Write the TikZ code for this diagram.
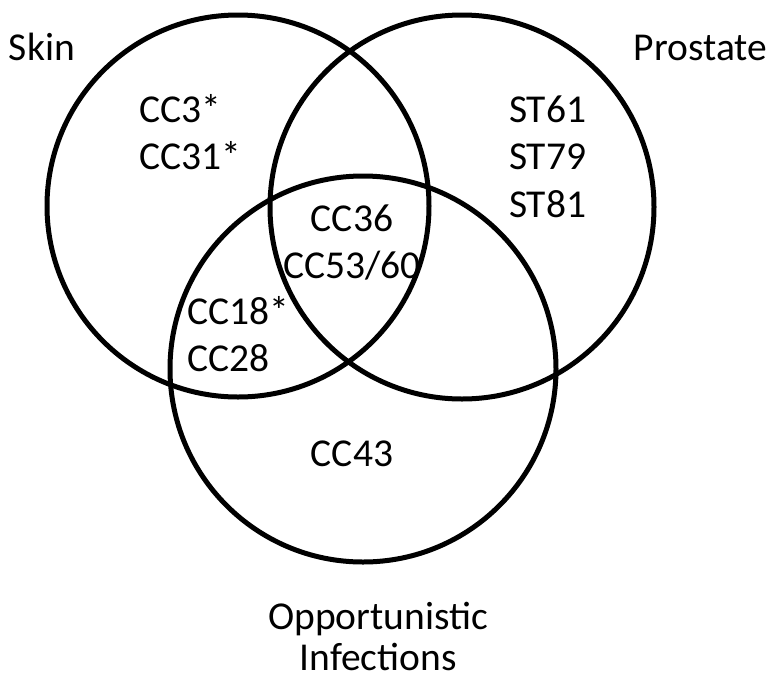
\documentclass[tikz,border=0pt]{standalone}
\usepackage{fontspec}
\setmainfont{Carlito}
\begin{document}
\begin{tikzpicture}[x=1pt,y=-1pt,
  ring/.style={draw=black,line width=5pt},
  lbl/.style={inner sep=0pt,outer sep=0pt,font=\fontsize{39.5}{46}\selectfont}]
\useasboundingbox (0,0) rectangle (771,681);
% circles
\node[ring,circle,minimum size=382pt,inner sep=0pt] (skinc) at (238,206) {};
\node[ring,circle,minimum size=384pt,inner sep=0pt] (prosc) at (462,207) {};
\node[ring,circle,minimum size=386pt,inner sep=0pt] (oppc) at (363,369) {};
% set labels
\node[lbl,anchor=base west] (skin) at (9,60) {Skin};
\node[lbl,anchor=base east] (prostate) at (767,60) {Prostate};
\node[lbl,anchor=base] (opp) at (378,629) {Opportunistic};
\node[lbl,anchor=base] (inf) at (378,670) {Infections};
% region contents
\node[lbl,anchor=base west] (cc3) at (139,122) {CC3*};
\node[lbl,anchor=base west] (cc31) at (139,169) {CC31*};
\node[lbl,anchor=base west] (st61) at (509,122) {ST61};
\node[lbl,anchor=base west] (st79) at (509,169) {ST79};
\node[lbl,anchor=base west] (st81) at (509,217) {ST81};
\node[lbl,anchor=base] (cc36) at (352,231) {CC36};
\node[lbl,anchor=base] (cc53) at (352,278) {CC53/60};
\node[lbl,anchor=base west] (cc18) at (187,324) {CC18*};
\node[lbl,anchor=base west] (cc28) at (187,371) {CC28};
\node[lbl,anchor=base] (cc43) at (352,466) {CC43};
\end{tikzpicture}
\end{document}
